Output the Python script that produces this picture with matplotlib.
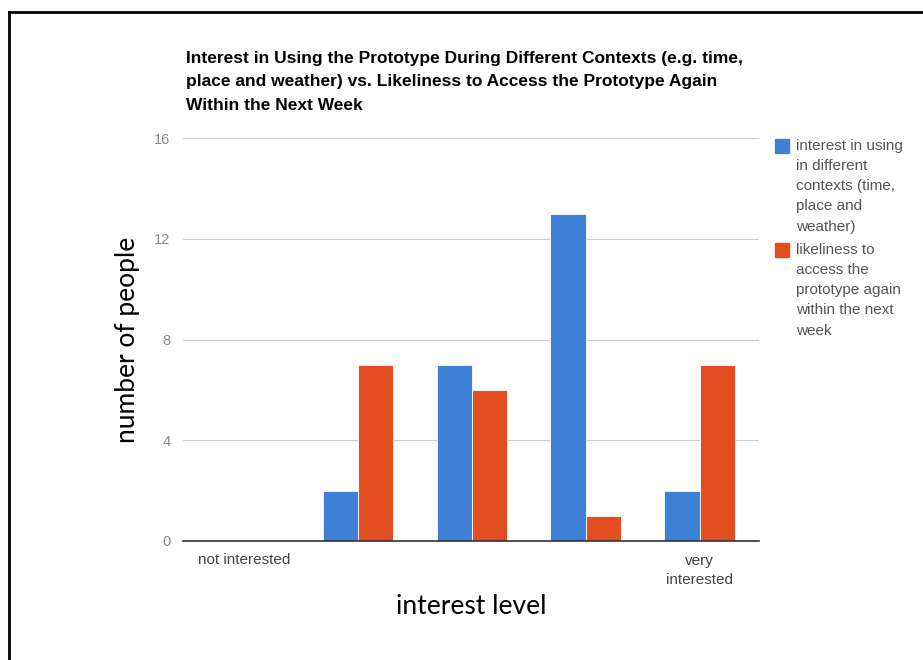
import matplotlib.pyplot as plt
import numpy as np
from matplotlib.lines import Line2D
from matplotlib.patches import Rectangle

levels = ["not interested", "", "", "", "very\ninterested"]
contexts = [0, 2, 7, 13, 2]
access_again = [0, 7, 6, 1, 7]
series_names = ["interest in using\nin different\ncontexts (time,\nplace and\nweather)",
                "likeliness to\naccess the\nprototype again\nwithin the next\nweek"]
yticks = [0, 4, 8, 12, 16]

blue = "#3d80d5"
orange = "#e34e21"
W, H = 923, 660

fig = plt.figure(figsize=(W / 100, H / 100), dpi=100)
ax = fig.add_axes([183 / W, 1 - 541 / H, 576 / W, 403 / H])

x = np.arange(len(levels))
w = 0.31
ax.bar(x - w / 2, contexts, w, color=blue, edgecolor="white", linewidth=0.6, zorder=3)
ax.bar(x + w / 2, access_again, w, color=orange, edgecolor="white", linewidth=0.6, zorder=3)

ax.set_xlim(-0.535, 4.52)
ax.set_ylim(0, 16)
ax.set_yticks(yticks)
ax.set_yticklabels([str(t) for t in yticks], color="#888888", fontsize=10.5, family="Liberation Sans")
ax.set_xticks(x)
ax.set_xticklabels(levels, color="#444444", fontsize=11, family="Liberation Sans", linespacing=1.5)
ax.tick_params(length=0)
ax.tick_params(axis="y", pad=9)
ax.tick_params(axis="x", pad=9)
ax.grid(axis="y", color="#cccccc", linewidth=0.8, zorder=0)
for s in ["top", "right", "left"]:
    ax.spines[s].set_visible(False)
ax.spines["bottom"].set_color("#333333")
ax.spines["bottom"].set_linewidth(1.2)
ax.spines["bottom"].set_zorder(4)

ax.set_ylabel("number of people", fontsize=19, family="Lato", labelpad=10)
ax.set_xlabel("interest level", fontsize=19, family="Lato", labelpad=5)

fig.text(186 / W, 1 - 51 / H,
         "Interest in Using the Prototype During Different Contexts (e.g. time,\n"
         "place and weather) vs. Likeliness to Access the Prototype Again\n"
         "Within the Next Week",
         fontsize=12.5, fontweight="bold", family="Liberation Sans", va="top", ha="left",
         linespacing=1.7)

# legend: colour square beside the first line of each wrapped label
for color, name, top in [(blue, series_names[0], 139), (orange, series_names[1], 243)]:
    fig.add_artist(Rectangle((775 / W, 1 - (top + 14) / H), 14 / W, 14 / H,
                             color=color, transform=fig.transFigure))
    fig.text(796 / W, 1 - top / H, name, fontsize=11, family="Liberation Sans",
             color="#555555", va="top", ha="left", linespacing=1.56)

# frame around the figure
fig.add_artist(Line2D([9 / W, 9 / W], [0, 1 - 12 / H], color="black", linewidth=2, transform=fig.transFigure))
fig.add_artist(Line2D([9 / W, 1.0], [1 - 12 / H, 1 - 12 / H], color="black", linewidth=2, transform=fig.transFigure))

fig.savefig("out.png", dpi=100)
